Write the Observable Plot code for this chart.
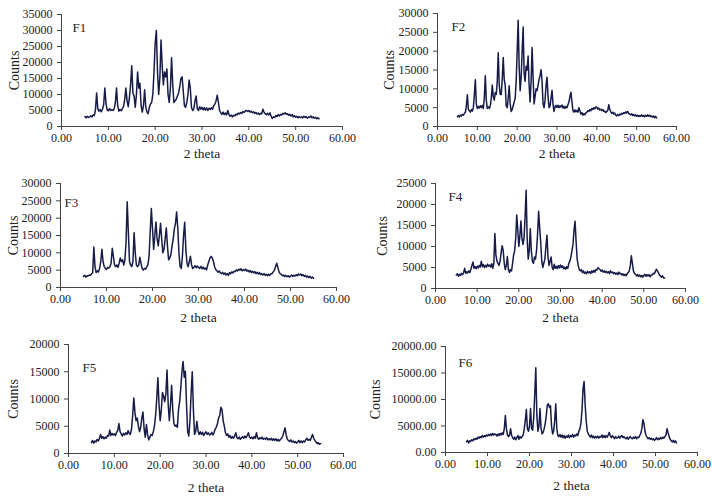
<!DOCTYPE html>
<html>
<head>
<meta charset="utf-8">
<script src="https://cdn.jsdelivr.net/npm/d3@7"></script>
<script src="https://cdn.jsdelivr.net/npm/@observablehq/plot@0.6"></script>
<style>
  html, body { margin: 0; padding: 0; background: #fff; }
  #wrap { position: relative; width: 712px; height: 498px; background: #fff; overflow: hidden; font-family: "Liberation Serif", serif; }
  #wrap svg { font-family: "Liberation Serif", serif; }
</style>
</head>
<body>
<div id="wrap"></div>
<script>
// 2θ sampling grid: 5.00 … 55.00 in 0.25° steps (201 samples)
const twoTheta = d3.range(0, 201).map(i => 5 + i * 0.25);
const xTicks = [0, 10, 20, 30, 40, 50, 60];

const f1 = [
3100,2700,3200,2800, 3000,3300,3000,3600, 3400,5200,10500,5600, 4800,5300,4600,5400,
6800,12000,7200,5200, 4900,5600,5000,5300, 5000,5600,7500,12000, 6500,4800,5300,4900,
5600,6300,8500,12000, 8000,6200,9000,13000, 19000,10500,9500,6000, 10000,17000,12000,13500,
6500,4500,6500,11500, 6000,4500,4000,6000, 7000,7500,10000,17000, 26000,30000,17000,10000,
15000,27000,19000,13000, 17000,15500,18000,10000, 7500,12000,21500,13000, 7500,8000,8500,9500,
10500,12500,15000,15500, 11000,6500,6000,7500, 10000,14500,12000,6000, 5000,5500,8000,9500,
5500,5000,6200,5400, 6000,5200,5900,5100, 5800,5000,5700,5300, 5900,5400,6500,7000,
8000,9800,7500,5000, 4300,3800,4500,3700, 4200,3600,5000,3800, 3200,3600,3000,3500,
3300,3900,3600,4200, 3900,4400,4100,4700, 4400,4900,5000,4700, 5000,4500,4800,4300,
4600,4100,4400,3900, 4200,3700,4100,4000, 5400,4500,4000,3700, 4100,3600,4300,3300,
2500,3000,2800,3400, 3100,3700,3300,3800, 3600,4100,3900,4300, 3800,4000,3500,3800,
3300,3700,3000,3400, 2900,3200,2700,3100, 2800,3000,2700,3200, 2800,3100,2600,3000,
2900,3300,2700,3000, 2600,2900,2400,2700, 2400];

const f2 = [
2600,2900,2500,3000, 2800,3200,3000,3400, 3800,5500,8400,4500, 4200,3800,4500,4100,
5000,8500,12400,6000, 4800,5300,4900,5500, 5000,5600,4800,7500, 13500,7000,4800,5200,
4800,5500,7500,11000, 8000,7000,9000,8500, 12000,19600,11000,8500, 8500,12500,18300,12500,
11000,5500,5000,7500, 10800,6000,4000,4500, 5500,6500,7500,12000, 20000,28200,16000,9500,
13000,20000,26400,14000, 12000,16000,15000,18700, 11000,6500,12000,21000, 13000,6000,8000,10000,
9500,11000,12500,13500, 15100,12000,6000,5000, 7000,11000,13100,8000, 5000,5500,7500,9600,
6000,4000,5200,5600, 5100,5600,5000,5500, 5200,5700,4900,5400, 4800,5300,5000,5800,
6500,8000,9100,6500, 4200,3800,4400,3900, 4300,3800,5000,4200, 3300,3700,3000,3400,
3100,3600,3800,4200, 4000,4500,4200,4800, 4500,5000,4700,5200, 5100,4600,4900,4400,
4600,4200,4500,4000, 4100,3700,4000,4300, 5800,4500,3900,3500, 3800,3300,3600,3000,
2800,3200,2900,3300, 3100,3500,3300,3700, 3500,3900,3600,4000, 3500,3300,3100,3400,
2900,3200,2800,3100, 2700,3000,2600,2900, 2700,3100,2700,2900, 2600,3000,2700,3100,
2700,3000,2600,2800, 2500,2800,2300,2700, 2300];

const f3 = [
3200,3500,3000,3400, 3300,3600,3500,3900, 4300,11700,6000,4300, 4800,4500,5500,7500,
11000,7500,6000,5500, 5200,5800,5600,6000, 7000,11300,9000,6500, 6000,6500,5800,7000,
8500,7500,8000,6500, 8000,13000,24700,16000, 7500,6500,6000,7500, 15800,10000,6500,6000,
6500,8700,7000,5500, 5000,5500,5300,6000, 6500,9000,16000,22800, 17000,11000,15000,18900,
14000,12000,15000,18500, 14000,10000,11000,14000, 17200,12000,8000,8500, 9500,12000,14000,17000,
18500,21800,17000,10000, 6000,5500,9000,15000, 18800,11000,7000,6000, 7500,9000,6500,5500,
5800,6300,5700,6200, 5800,5500,6100,5400, 5900,5300,5600,5100, 6500,7500,8500,9000,
8500,7500,6000,5200, 4800,4400,4800,4200, 4000,4400,3800,4200, 3600,4000,3500,4300,
4000,4500,4200,4700, 4600,5100,4800,5300, 5000,5400,4800,5200, 4900,5300,4700,5000,
4500,4900,4300,4700, 4200,4600,4000,4400, 3900,4300,3700,4000, 3600,4000,3500,3800,
3400,3800,3500,4000, 4000,4500,5000,6000, 7000,5800,4500,4000, 3800,3400,3600,3200,
3500,3100,3400,3000, 3300,3600,3200,3500, 3300,3700,3400,3900, 3600,3900,3400,3700,
3200,3500,3000,3300, 2900,3200,2700,3000, 2700];

const f4 = [
3200,3500,2900,3400, 3100,3600,3300,3800, 4800,3600,4000,3700, 4200,3800,4600,5500,
6300,4800,5200,4700, 5300,4900,5500,5100, 6500,5200,5700,5000, 5500,5100,5800,5300,
5600,5100,5900,4800, 6000,13100,8000,6500, 6000,5500,6500,8500, 10200,9000,6000,4500,
5500,7600,4500,3800, 4500,4200,6000,8000, 9000,12000,17500,14000, 10000,12500,16100,12000,
10500,12000,17000,23400, 12000,7000,9000,14200, 9000,6500,6000,7500, 7000,9000,13000,18400,
14500,11000,6500,5000, 6000,7000,10000,12700, 7500,5500,6500,7500, 5000,4500,5800,4800,
5300,4700,5500,4900, 5600,5000,5400,4700, 5100,4600,5200,4800, 6000,6500,7500,9000,
10500,14000,16000,11000, 7000,5500,4500,4200, 4500,3800,4200,3600, 3900,3500,4100,3700,
4000,3600,4200,3800, 4300,3900,4500,4400, 5000,4700,4500,4100, 4400,3900,4200,3800,
4100,3700,4000,3600, 4200,3800,3900,3500, 3800,3400,3700,3300, 3900,3500,3600,3200,
3500,3100,3400,3000, 3500,3800,4200,5500, 7800,6000,4200,3600, 3400,3000,3300,2900,
3200,2800,3100,2700, 3100,3400,2900,3300, 3000,3300,2800,3200, 3200,3600,3500,4000,
4600,4200,3800,3200, 3000,2700,3000,2500, 2500];

const f5 = [
2000,2400,1900,2300, 2100,2600,2300,2800, 3500,2800,3100,2700, 3000,2800,3300,3200,
4300,3300,3700,3400, 3600,3300,3900,4200, 5500,4000,3600,3200, 3700,3400,3800,3500,
4200,3700,3500,4500, 7000,10200,7500,6000, 6500,5000,4000,4800, 6500,7600,4500,3000,
5300,3500,2500,3000, 3500,3300,4000,5000, 7000,10000,13900,9000, 6000,8000,11200,10500,
9500,11000,15300,9000, 6000,9000,12500,8000, 5500,5000,5200,4800, 8000,9500,12000,15000,
16900,14000,15100,9000, 4000,3200,6000,11000, 15000,8000,3500,4000, 5900,4200,3500,4000,
3500,3900,3300,3700, 4000,3500,3800,3400, 3500,3900,3400,3800, 4500,4800,5500,6500,
7000,8500,8000,6000, 5000,3800,3300,3600, 3000,3300,2800,3100, 2800,3200,3800,2900,
2700,3000,2600,2900, 3100,2800,3200,2900, 3300,3800,3000,2800, 3000,2700,3100,2800,
3800,2900,2600,2900, 2700,3000,2600,2800, 2600,2900,2500,2700, 2500,2800,2400,2700,
2400,2700,2300,2600, 2300,2600,2800,3200, 4000,4700,3400,2600, 2400,2200,2500,2100,
2300,2000,2200,1900, 2100,2400,2000,2300, 2000,2300,2100,2500, 2800,2400,2600,2400,
3000,3500,2800,2400, 2100,1800,2000,1700, 1800];

const f6 = [
2000,2300,1800,2200, 2100,2400,2200,2600, 2400,2700,2500,2900, 2700,3000,2800,3200,
2900,3200,3000,3300, 3100,3400,3200,3500, 3200,3600,3300,3500, 3400,3100,3500,3200,
3600,3300,3700,3400, 4500,7000,4500,3300, 3000,3300,4500,3200, 2800,2500,2900,2400,
2800,3200,2500,3000, 2700,3000,3300,4500, 6000,8100,4500,4000, 5000,8300,4500,4200,
6500,11000,16000,7000, 4000,5000,8300,4500, 3500,3800,4500,5500, 7000,9000,9200,8500,
8800,5000,3500,4000, 6000,9200,4500,3200, 3000,3400,2900,3300, 2800,3200,2700,3100,
2900,3300,2800,3200, 3000,3400,2900,3300, 3100,3500,3200,4000, 4500,5500,8000,12000,
13400,9000,6000,4000, 3500,3200,2900,3300, 2800,3100,2700,3000, 2800,3100,2700,3000,
2900,3300,2800,3200, 2800,3200,2900,3300, 3800,3100,2800,3200, 2900,2600,3000,2700,
2800,3100,2700,3000, 3200,2800,3000,2700, 2600,2900,2500,2800, 3000,2700,2600,2900,
2700,3000,2600,2900, 2800,3200,3600,4500, 6200,5500,4000,3200, 2900,2600,2800,2500,
2700,2400,2600,2300, 2500,2800,2400,2700, 2500,2800,2600,2900, 2700,3000,3300,4500,
3700,3000,2500,2200, 2000,2300,1900,2200, 1800];

const names = ["F1", "F2", "F3", "F4", "F5", "F6"];
const series = [f1, f2, f3, f4, f5, f6];
const yMax = [35000, 30000, 30000, 25000, 20000, 20000];
const yFormats = ["d", "d", "d", "d", "d", ".2f"];
const xTitle = "2 theta";
const yTitle = "Counts";

// layout of each panel (pixels)
const layout = [
  {left: 0,   top: 0,   mL: 61, mR: 14, mT: 14, mB: 40, cx: 14, ty: 31, fx: 11, fy: 8},
  {left: 356, top: 0,   mL: 81, mR: 36, mT: 13, mB: 40, cx: 33, ty: 31, fx: 14, fy: 8},
  {left: 0,   top: 166, mL: 60, mR: 20, mT: 17, mB: 45, cx: 13, ty: 34, fx: 4,  fy: 14},
  {left: 356, top: 166, mL: 79, mR: 27, mT: 17, mB: 44, cx: 26, ty: 33, fx: 13, fy: 8},
  {left: 0,   top: 332, mL: 68, mR: 13, mT: 12, mB: 45, cx: 13, ty: 38, fx: 14, fy: 18},
  {left: 356, top: 332, mL: 89, mR: 15, mT: 14, mB: 46, cx: 19, ty: 37, fx: 13, fy: 11}
];

const wrap = document.getElementById("wrap");
const W = 356, H = 166;
const ink = "#222";
const serif = "Liberation Serif";

series.forEach((vals, k) => {
  const L = layout[k];
  const data = vals.map((v, i) => ({t: twoTheta[i], c: v}));
  const yTicks = d3.range(0, yMax[k] + 1, 5000);
  const chart = Plot.plot({
    width: W,
    height: H,
    marginLeft: L.mL, marginRight: L.mR, marginTop: L.mT, marginBottom: L.mB,
    style: {fontFamily: serif, fontSize: "12px", color: ink, background: "transparent"},
    x: {domain: [0, 60]},
    y: {domain: [0, yMax[k]]},
    marks: [
      Plot.line(data, {x: "t", y: "c", stroke: "#161b48", strokeWidth: 1.5}),
      Plot.ruleY([0], {stroke: "#444", strokeWidth: 1}),
      Plot.ruleX([0], {stroke: "#444", strokeWidth: 1}),
      Plot.axisX({ticks: xTicks, tickFormat: d3.format(".2f"), tickSize: 4, tickPadding: 3, label: null, stroke: "#444", fontSize: 12, fontFamily: serif}),
      Plot.axisY({ticks: yTicks, tickFormat: d3.format(yFormats[k]), tickSize: 4, tickPadding: 5, label: null, stroke: "#444", fontSize: 12, fontFamily: serif}),
      Plot.text([yTitle], {frameAnchor: "left", dx: L.cx - L.mL, rotate: -90, textAnchor: "middle", fontSize: 14, fontFamily: serif, fill: ink}),
      Plot.text([xTitle], {frameAnchor: "bottom", dy: L.ty, textAnchor: "middle", fontSize: 13.5, fontFamily: serif, fill: ink}),
      Plot.text([names[k]], {frameAnchor: "top-left", dx: L.fx, dy: L.fy, textAnchor: "start", fontSize: 13, fontFamily: serif, fill: ink})
    ]
  });
  chart.style.left = L.left + "px";
  chart.style.top = L.top + "px";
  chart.style.position = "absolute";
  chart.style.margin = "0";
  wrap.appendChild(chart);
});
</script>
</body>
</html>
